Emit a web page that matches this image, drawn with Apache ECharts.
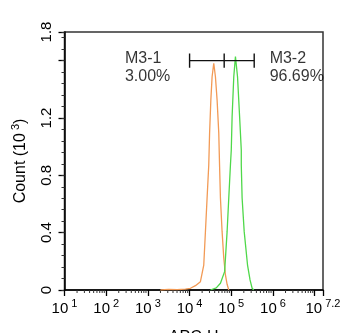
<!DOCTYPE html>
<html>
<head>
<meta charset="utf-8">
<script src="https://cdn.jsdelivr.net/npm/echarts@6/dist/echarts.min.js"></script>
<style>html,body{margin:0;padding:0;background:#fff}#c{width:350px;height:333px}</style>
</head>
<body>
<div id="c"></div>
<script>
// x values are log10(APC-H intensity); counts in thousands
const orangeLogX = [3.30, 3.50, 3.70, 3.90, 4.02, 4.14, 4.26, 4.34, 4.38, 4.42, 4.46, 4.48, 4.51, 4.54, 4.58, 4.62, 4.66, 4.70, 4.72, 4.74, 4.78, 4.82, 4.86, 4.90, 4.94];
const orangeCount = [0, 0.004, 0.002, 0.006, 0.012, 0.030, 0.058, 0.174, 0.407, 0.642, 0.872, 1.096, 1.326, 1.488, 1.582, 1.488, 1.326, 1.096, 0.860, 0.642, 0.407, 0.223, 0.105, 0.040, 0];
const greenLogX = [4.50, 4.64, 4.74, 4.84, 4.90, 4.94, 4.98, 5.00, 5.02, 5.06, 5.10, 5.15, 5.20, 5.24, 5.24, 5.26, 5.31, 5.39, 5.45, 5.50, 5.54];
const greenCount = [0, 0.015, 0.047, 0.128, 0.407, 0.642, 0.872, 0.977, 1.209, 1.488, 1.628, 1.488, 1.209, 0.977, 0.872, 0.642, 0.407, 0.174, 0.070, 0.012, 0];
const gateNames = ['M3-1', 'M3-2'];
const gatePercents = ['3.00%', '96.69%'];
const gateBounds = [[4.0, 4.83], [4.83, 5.55]];
const gateLevel = 1.6;
const xTickExponents = [1, 2, 3, 4, 5, 6, 7, 7.2];
const yTickLabels = ['0', '0.4', '0.8', '1.2', '1.8'];

const FONT = 'Liberation Sans, Arial, sans-serif';
const TXT = '#000';
const chart = echarts.init(document.getElementById('c'));

function zip(xs, ys) { return xs.map((x, i) => [x, ys[i]]); }

// minor ticks of a log axis: log10(k * 10^n)
const minorTicks = [];
for (let n = 1; n < 8; n++) for (let k = 2; k <= 9; k++) {
  const v = n + Math.log10(k);
  if (v < 7.2) minorTicks.push([v]);
}

// gate segments
const gateSeries = [];
gateBounds.forEach((b) => {
  gateSeries.push({type: 'line', data: [[b[0], gateLevel], [b[1], gateLevel]], symbol: 'none', silent: true,
    lineStyle: {color: '#111', width: 1.4}, z: 5});
});
const capXs = [gateBounds[0][0], gateBounds[0][1], gateBounds[1][1]];
capXs.forEach((x) => {
  gateSeries.push({type: 'line', data: [[x, gateLevel - 0.05], [x, gateLevel + 0.05]], symbol: 'none', silent: true,
    lineStyle: {color: '#111', width: 1.4}, z: 5});
});

const supRich = {
  b: {fontSize: 15, fontFamily: FONT, color: TXT, lineHeight: 18, verticalAlign: 'bottom'},
  s: {fontSize: 11, fontFamily: FONT, color: TXT, lineHeight: 11, verticalAlign: 'top', padding: [0, 0, 0, 3]}
};

const option = {
  animation: false,
  grid: {left: 64.5, right: 27, top: 32, bottom: 43, containLabel: false, outerBoundsMode: 'none',
    show: true, borderColor: '#333', borderWidth: 1.5, backgroundColor: 'transparent'},
  xAxis: {
    type: 'value', min: 1, max: 7.2, interval: 1,
    name: 'APC-H', nameLocation: 'middle', nameGap: 40,
    nameTextStyle: {fontSize: 16, fontFamily: FONT, color: TXT, verticalAlign: 'top'},
    axisLine: {lineStyle: {color: '#000', width: 1.5}},
    axisTick: {show: true, inside: false, length: 6, lineStyle: {color: '#000', width: 1.3}},
    splitLine: {show: false},
    axisLabel: {
      margin: 8, showMaxLabel: true, showMinLabel: true,
      formatter: (v) => {
        const e = xTickExponents.find((t) => Math.abs(t - v) < 1e-6);
        if (e === undefined || e === 7) return '';
        return '{b|10}{s|' + e + '}';
      },
      rich: supRich
    }
  },
  yAxis: [{
    type: 'value', min: 0, max: 1.8, interval: 0.4,
    name: '{n|Count (10}{s|3}{n|)}', nameLocation: 'middle', nameGap: 36,
    nameTextStyle: {rich: {n: {fontSize: 16, fontFamily: FONT, color: TXT, lineHeight: 18, verticalAlign: 'bottom'},
      s: {fontSize: 11, fontFamily: FONT, color: TXT, lineHeight: 11, verticalAlign: 'top', padding: [0, 0, 0, 3]}}},
    axisLine: {show: true, lineStyle: {color: '#000', width: 1.5}},
    axisTick: {show: true, length: 6, lineStyle: {color: '#000', width: 1.3}},
    splitLine: {show: false},
    axisLabel: {
      rotate: 90, margin: 10, fontSize: 15, fontFamily: FONT, color: TXT, showMaxLabel: true,
      formatter: (v) => {
        const s = String(Math.round(v * 10) / 10);
        return yTickLabels.indexOf(s) >= 0 ? s : '';
      }
    }
  }, {
    type: 'value', min: 0, max: 1.8, interval: 0.08, position: 'left',
    axisLine: {show: false},
    axisTick: {show: true, length: 3, lineStyle: {color: '#333', width: 1}},
    axisLabel: {show: false}, splitLine: {show: false}
  }],
  series: [
    {type: 'custom', data: minorTicks, silent: true, clip: false, z: 3,
      renderItem: (params, api) => {
        const p = api.coord([api.value(0), 0]);
        return {type: 'line', shape: {x1: p[0], y1: p[1], x2: p[0], y2: p[1] + 3}, style: {stroke: '#333', lineWidth: 1}};
      }},
    {type: 'line', data: zip(orangeLogX, orangeCount), symbol: 'none', lineStyle: {color: '#F29A55', width: 1.3}, z: 4},
    {type: 'line', data: zip(greenLogX, greenCount), symbol: 'none', lineStyle: {color: '#4FD84A', width: 1.3}, z: 4},
    ...gateSeries,
    {type: 'scatter', symbolSize: 0, silent: true, z: 6,
      data: [[2.45, 1.549], [5.92, 1.549]],
      label: {show: true, position: 'right', distance: 0, align: 'left', verticalAlign: 'middle',
        fontSize: 16, lineHeight: 18, fontFamily: FONT, color: TXT,
        formatter: (p) => gateNames[p.dataIndex] + '\n' + gatePercents[p.dataIndex]}}
  ]
};
chart.setOption(option);
</script>
</body>
</html>
